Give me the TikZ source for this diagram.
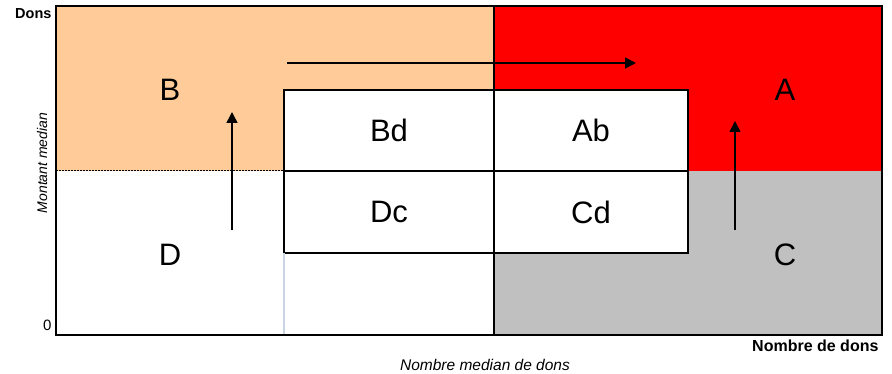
\documentclass[tikz,border=0pt]{standalone}
\usepackage{fontspec}
\setmainfont{Liberation Sans}
\usetikzlibrary{positioning, arrows.meta}
\definecolor{peach}{HTML}{FFCC99}
\definecolor{hotred}{HTML}{FF0000}
\definecolor{midgrey}{HTML}{C0C0C0}
\definecolor{paleblue}{HTML}{C9D5E5}
\tikzstyle{quad} = [rectangle, inner sep=0pt, outer sep=0pt]
\tikzstyle{cell} = [rectangle, draw, line width=2pt, fill=white, inner sep=0pt, outer sep=0pt, minimum height=81.5pt, font=\fontsize{31}{35}\selectfont]
\tikzstyle{letter} = [font=\fontsize{31}{35}\selectfont]
\tikzstyle{axis} = [font=\fontsize{15}{17}\selectfont]
\tikzstyle{line} = [draw, line width=1.5pt, -{Triangle[length=11pt, width=11pt]}]

\begin{document}
\begin{tikzpicture}[x=1pt, y=-1pt, node distance=0pt]
    \useasboundingbox (0,0) rectangle (892,374);

    % quadrants
    \node (qB) [quad, fill=peach, minimum width=438pt, minimum height=165pt, anchor=north west] at (56,6) {};
    \node (qA) [quad, fill=hotred, minimum width=388pt, minimum height=165pt, right=of qB] {};
    \node (qD) [quad, fill=white, minimum width=438pt, minimum height=164pt, below=of qB] {};
    \node (qC) [quad, fill=midgrey, minimum width=388pt, minimum height=164pt, below=of qA] {};

    \draw [line width=2pt] (qB.north east) -- (qD.south east);
    \draw [dash pattern=on 2pt off 1pt, line width=1pt] (qB.south west) -- (qB.south west -| 284,0);

    % central cells
    \node (bd) [cell, minimum width=210pt, anchor=north west] at (284,90) {Bd};
    \node (ab) [cell, minimum width=194pt, right=of bd] {Ab};
    \node (dc) [cell, minimum width=210pt, below=of bd] {Dc};
    \node (cd) [cell, minimum width=194pt, below=of ab] {Cd};

    \draw [paleblue, line width=2pt] (dc.south west) -- (dc.south west |- qD.south);
    \draw [line width=2pt] (qB.north west) rectangle (qC.south east);

    % letters
    \node (lB) [letter] at (170,90) {B};
    \node (lA) [letter] at (785,90) {A};
    \node (lD) [letter] at (170,255) {D};
    \node (lC) [letter] at (785,255) {C};

    % arrows
    \coordinate (fromB) at (287,63);
    \coordinate (toA) at (636,63);
    \coordinate (fromD) at (232,230);
    \coordinate (toB) at (232,112);
    \coordinate (fromC) at (735,230);
    \coordinate (toAc) at (735,121);
    \path [line] (fromB) -- (toA);
    \path [line] (fromD) -- (toB);
    \path [line] (fromC) -- (toAc);

    % axis texts
    \node (dons) [axis, font=\bfseries\fontsize{14.5}{16}\selectfont, anchor=north east] at (55,5) {Dons};
    \node (zero) [axis, anchor=east] at (55,325) {0};
    \node (nbdons) [axis, font=\bfseries\fontsize{16}{18}\selectfont, anchor=north east] at (882,336) {Nombre de dons};
    \node (nbmed) [axis, font=\itshape\fontsize{15.5}{17}\selectfont] at (485,365) {Nombre median de dons};
    \node (montant) [axis, font=\itshape\fontsize{14}{16}\selectfont, rotate=90] at (42,163) {Montant median};
\end{tikzpicture}
\end{document}
